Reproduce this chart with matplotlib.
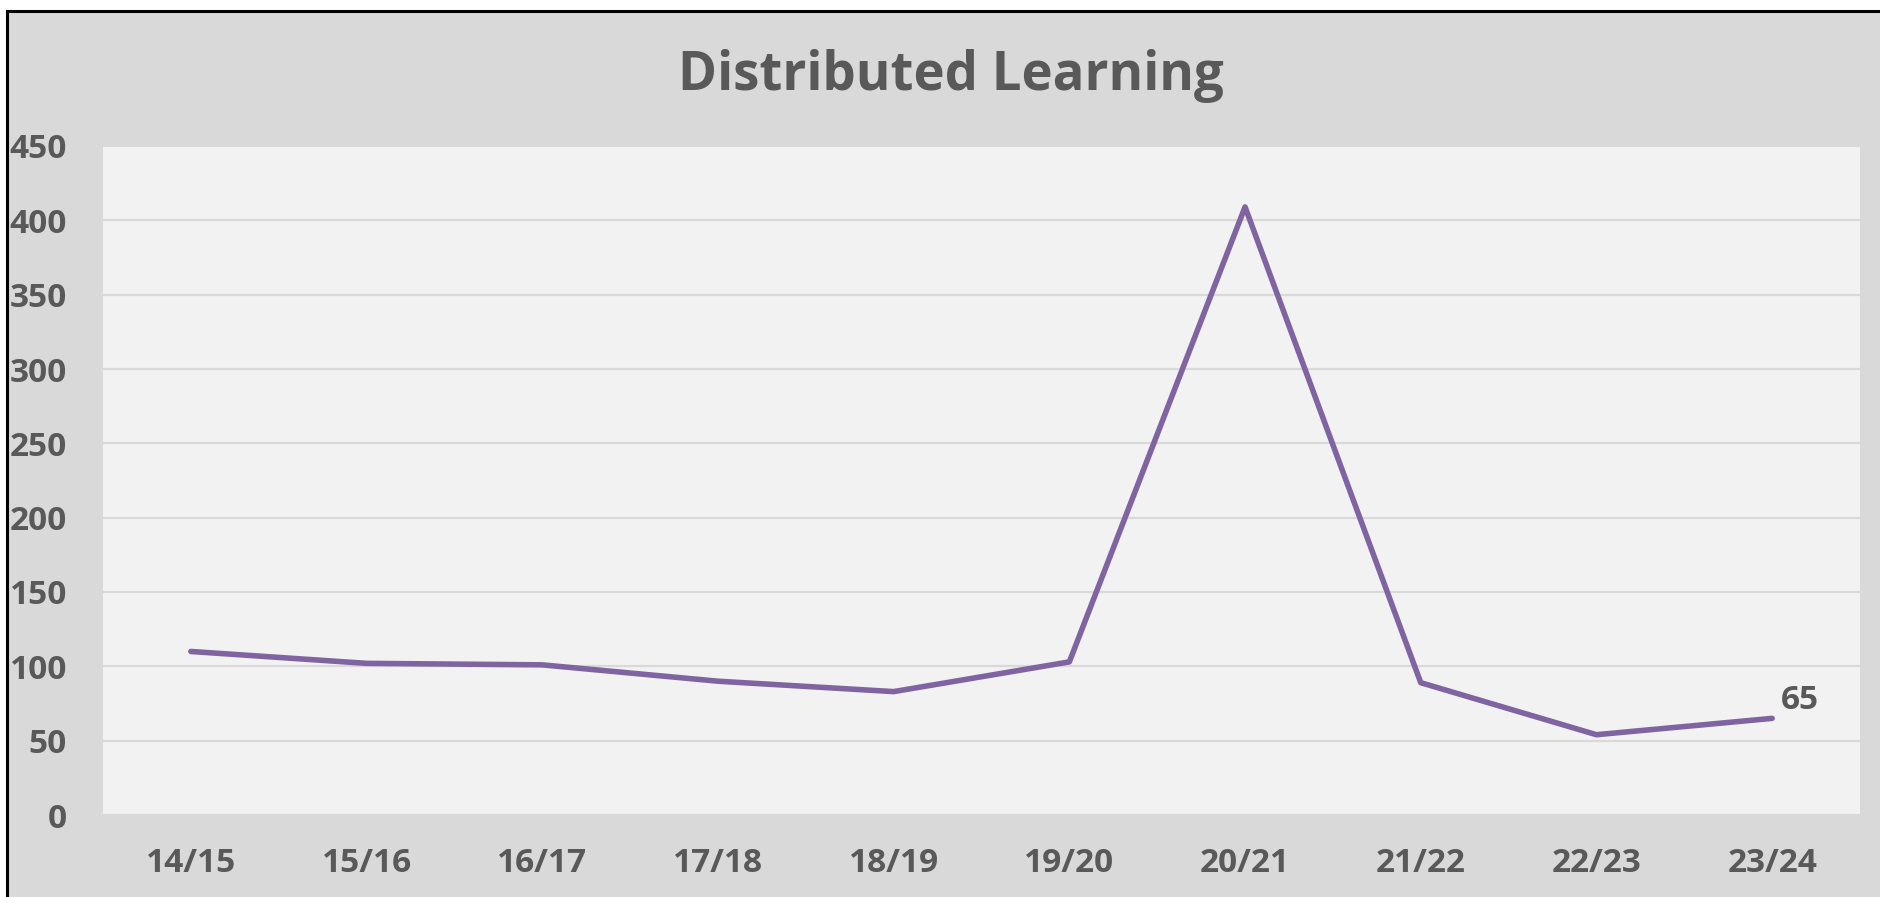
import matplotlib
matplotlib.use("Agg")
import matplotlib.pyplot as plt
from matplotlib.patches import Rectangle

years = ["14/15", "15/16", "16/17", "17/18", "18/19", "19/20", "20/21", "21/22", "22/23", "23/24"]
values = [110, 102, 101, 90, 83, 103, 409, 89, 54, 65]
yticks = [0, 50, 100, 150, 200, 250, 300, 350, 400, 450]
title = "Distributed Learning"

W, H = 1880, 897
dpi = 100
fig = plt.figure(figsize=(W / dpi, H / dpi), dpi=dpi, facecolor="white")

# chart frame
frame = Rectangle((7 / W, -0.05), 1.2, 1.05 - 11 / H, transform=fig.transFigure,
                  facecolor="#d9d9d9", edgecolor="black", linewidth=2.2, zorder=-10)
fig.patches.append(frame)

left, right, top, bottom = 103, 1860, 146, 815
ax = fig.add_axes([left / W, 1 - bottom / H, (right - left) / W, (bottom - top) / H])
ax.set_facecolor("#f2f2f2")

font = "Open Sans"
txt = "#595959"

x = list(range(len(years)))
ax.plot(x, values, color="#8064a2", linewidth=4.0, solid_joinstyle="round",
        solid_capstyle="round", zorder=3)

ax.set_xlim(-0.5, len(years) - 0.5)
ax.set_ylim(0, 450)
ax.set_yticks(yticks)
ax.set_yticklabels([str(t) for t in yticks], fontfamily=font, fontweight="bold",
                   fontsize=24, color=txt)
ax.set_xticks(x)
ax.set_xticklabels(years, fontfamily=font, fontweight="bold", fontsize=24, color=txt)
ax.tick_params(axis="both", length=0)
ax.tick_params(axis="y", pad=26)
ax.tick_params(axis="x", pad=23)
for t in ax.get_yticklabels():
    t.set_horizontalalignment("right")
ax.yaxis.grid(True, color="#d9d9d9", linewidth=1.6)
ax.set_axisbelow(True)
for s in ax.spines.values():
    s.set_visible(False)

ax.annotate(str(values[-1]), (x[-1], values[-1]), xytext=(20, 13),
            textcoords="offset points", ha="center", va="center",
            fontfamily=font, fontweight="bold", fontsize=24, color=txt)

fig.text(951 / W, 1 - 76 / H, title,
         ha="center", va="center", fontfamily=font, fontweight="bold",
         fontsize=38, color=txt)

fig.savefig("out.png", dpi=dpi, facecolor="white")
